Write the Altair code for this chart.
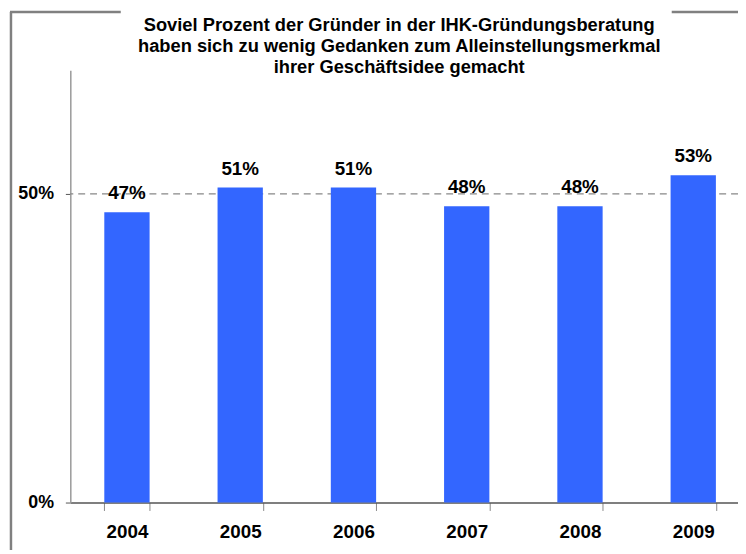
import altair as alt
import pandas as pd

years = ["2004", "2005", "2006", "2007", "2008", "2009"]
shares = [47, 51, 51, 48, 48, 53]
value_labels = ["47%", "51%", "51%", "48%", "48%", "53%"]
reference_value = [50]
title_lines = [
    "Soviel Prozent der Gründer in der IHK-Gründungsberatung",
    "haben sich zu wenig Gedanken zum Alleinstellungsmerkmal",
    "ihrer Geschäftsidee gemacht",
]

df = pd.DataFrame({"year": years, "share": shares, "label": value_labels})
ref = pd.DataFrame({"v": reference_value})

FONT = "Liberation Sans"
W, H = 675, 437

x_scale = alt.Scale(domain=years, range=[0, 687], paddingInner=0.6, paddingOuter=0.3)
y_scale = alt.Scale(domain=[0, 70], nice=False)

base = alt.Chart(df)

bars = base.mark_bar(color="#3366FF").encode(
    x=alt.X("year:N", scale=x_scale, sort=years,
            axis=alt.Axis(title=None, labelAngle=0, tickBand="extent", tickSize=8,
                          tickColor="#888888", domainColor="#555555", domainWidth=1.5,
                          labelFont=FONT, labelFontSize=19, labelFontWeight="bold",
                          labelColor="#000000", labelPadding=12, grid=False)),
    y=alt.Y("share:Q", scale=y_scale,
            axis=alt.Axis(title=None, values=[0, 50], labelExpr="datum.value + '%'",
                          tickSize=5, tickColor="#555555", domainColor="#999999",
                          domainWidth=1.5, labelFont=FONT, labelFontSize=18,
                          labelFontWeight="bold", labelColor="#000000",
                          labelPadding=12, grid=False)),
)

texts = base.mark_text(font=FONT, fontSize=19, fontWeight="bold", color="#000000",
                       baseline="alphabetic", dy=-13).encode(
    x=alt.X("year:N", scale=x_scale, sort=years),
    y=alt.Y("share:Q", scale=y_scale),
    text="label:N",
)

rule = alt.Chart(ref).mark_rule(color="#888888", strokeDash=[7, 5], strokeWidth=1.2).encode(
    y=alt.Y("v:Q", scale=y_scale)
)

frame_left = alt.Chart(ref).mark_rule(color="#808080", strokeWidth=2.5).encode(
    x=alt.value(-60), y=alt.value(-59), y2=alt.value(490)
)
frame_top1 = alt.Chart(ref).mark_rule(color="#808080", strokeWidth=2.5).encode(
    x=alt.value(-61), x2=alt.value(51), y=alt.value(-59)
)
frame_top2 = alt.Chart(ref).mark_rule(color="#808080", strokeWidth=2.5).encode(
    x=alt.value(608), x2=alt.value(700), y=alt.value(-59)
)

chart = alt.layer(rule, bars, texts, frame_left, frame_top1, frame_top2).properties(
    width=W,
    height=H,
    background="white",
    autosize=alt.AutoSizeParams(type="none"),
    padding={"left": 63, "top": 60, "right": 0, "bottom": 45},
    title=alt.TitleParams(text=title_lines, font=FONT, fontSize=18.5, fontWeight="bold",
                          color="#000000", anchor="middle", frame="group",
                          lineHeight=21.5, offset=-67, dx=-5),
).configure_view(stroke=None, strokeWidth=0)

chart.save("out.html", embed_options={"renderer": "svg", "actions": False})
